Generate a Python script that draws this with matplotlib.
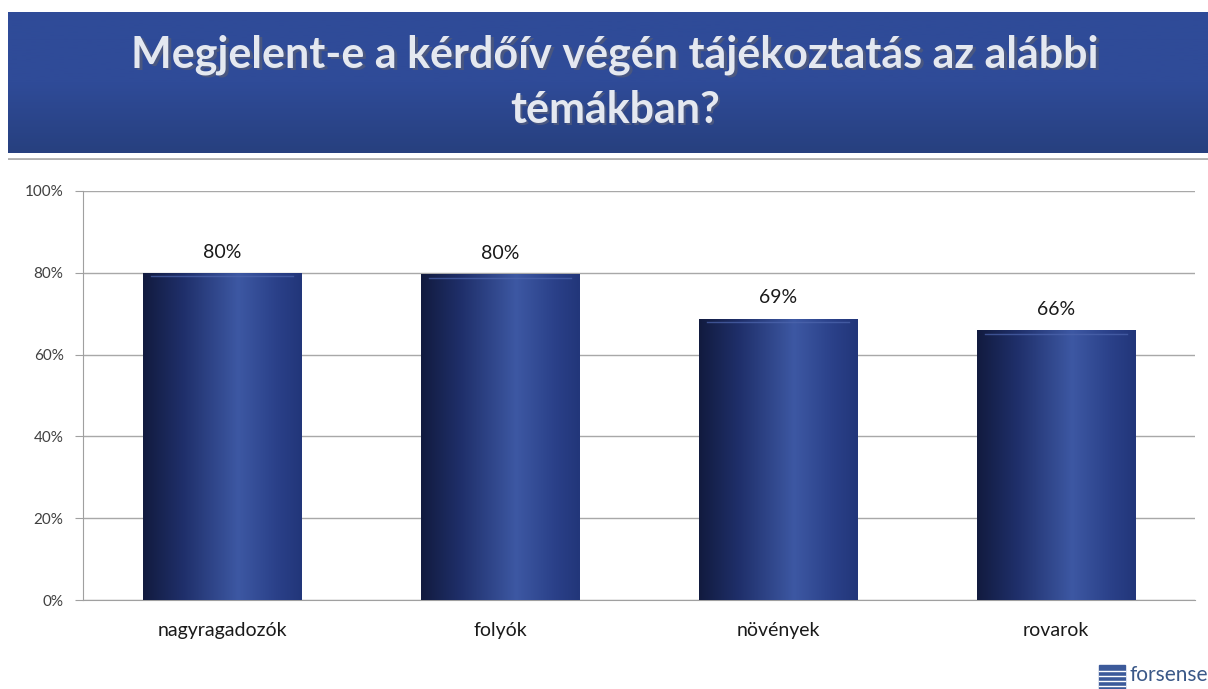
import numpy as np
import matplotlib.pyplot as plt
from matplotlib.patches import Rectangle
from matplotlib.colors import LinearSegmentedColormap

# adatok
categories = ['nagyragadozók', 'folyók', 'növények', 'rovarok']
values = [80, 79.6, 68.8, 65.9]
yticks = [0, 20, 40, 60, 80, 100]
title = 'Megjelent-e a kérdőív végén tájékoztatás az alábbi\ntémákban?'

plt.rcParams['font.family'] = ['Lato', 'DejaVu Sans']

fig = plt.figure(figsize=(12.08, 6.89), dpi=100)
W, H = 1208, 689

# fejléc sáv
band = fig.add_axes([8 / W, 1 - 153 / H, 1 - 8 / W, 141 / H])
grad = np.linspace(0, 1, 100).reshape(-1, 1)
band_cmap = LinearSegmentedColormap.from_list('band', ['#2F4B98', '#2F4B98', '#27407F'])
band.imshow(grad, aspect='auto', cmap=band_cmap, extent=[0, 1, 0, 1], origin='upper')
band.set_xlim(0, 1)
band.set_ylim(0, 1)
band.axis('off')
band.text(0.508, 0.49, title, ha='center', va='center', fontsize=31, fontweight='bold',
          color='#4A5780', linespacing=1.45, transform=band.transAxes)
band.text(0.506, 0.5, title, ha='center', va='center', fontsize=31, fontweight='bold',
          color='#E4E8F0', linespacing=1.45, transform=band.transAxes)

# elválasztó vonal
line_ax = fig.add_axes([8 / W, 1 - 160 / H, 1 - 8 / W, 3 / H])
line_ax.axhline(0.5, color='#B0B0B0', lw=2)
line_ax.axis('off')

# diagram
ax = fig.add_axes([83 / W, 1 - 600 / H, 1112 / W, 409 / H])
x = np.arange(len(categories))
bars = ax.bar(x, values, width=0.57, color='#2B3F85', zorder=2)

cyl_cmap = LinearSegmentedColormap.from_list(
    'cyl', [(0, '#121B3F'), (0.25, '#1F2F6A'), (0.6, '#3D58A3'), (0.85, '#2A4088'), (1, '#22367A')])
hgrad = np.linspace(0, 1, 200).reshape(1, -1)
for b, v in zip(bars, values):
    x0, w = b.get_x(), b.get_width()
    im = ax.imshow(hgrad, aspect='auto', cmap=cyl_cmap, extent=[x0, x0 + w, 0, v], zorder=3)
    im.set_clip_path(b)
    ax.plot([x0 + 0.03, x0 + w - 0.03], [v - 0.8, v - 0.8], color='#4E66AE', lw=1, alpha=0.7, zorder=4)
    ax.text(b.get_x() + w / 2, v + 3, f'{v:.0f}%', ha='center', va='bottom',
            fontsize=14, color='#1A1A1A', zorder=5)

ax.set_xlim(-0.5, len(categories) - 0.5)
ax.set_ylim(0, 100)
ax.set_yticks(yticks)
ax.set_yticklabels([f'{t}%' for t in yticks], fontsize=11, color='#404040')
ax.set_xticks(x)
ax.set_xticklabels(categories, fontsize=14, color='#1A1A1A')
ax.tick_params(axis='x', length=0, pad=16)
ax.tick_params(axis='y', length=6, color='#A0A0A0', pad=8)
ax.grid(axis='y', color='#A8A8A8', lw=1, zorder=0)
for s in ['top', 'right']:
    ax.spines[s].set_visible(False)
for s in ['left', 'bottom']:
    ax.spines[s].set_color('#A0A0A0')

# logó
logo = fig.add_axes([1098 / W, 0, 110 / W, 28 / H])
logo.set_xlim(0, 110)
logo.set_ylim(0, 28)
logo.axis('off')
logo.add_patch(Rectangle((1, 0), 26, 24, color='#3C5A9A'))
for r in range(4):
    logo.plot([1, 27], [3 + r * 5, 3 + r * 5], color='white', lw=1)
logo.text(32, 4, 'forsense', fontsize=15, color='#3A5888', va='bottom', ha='left')

fig.savefig('out.png', dpi=100)
